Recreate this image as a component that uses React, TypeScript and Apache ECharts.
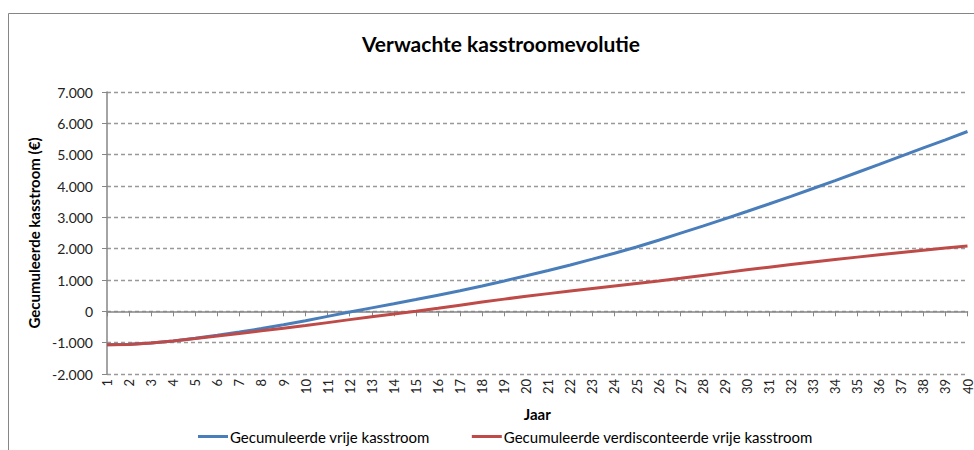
import React, { useEffect, useRef } from "react";
import * as echarts from "echarts";

const years: string[] = Array.from({ length: 40 }, (_, i) => String(i + 1));

const cumulativeFreeCashFlow: number[] = [
  -1070, -1050, -1010, -945, -860, -765, -660, -550, -430, -300,
  -160, -20, 110, 240, 375, 515, 655, 810, 970, 1135,
  1305, 1480, 1665, 1855, 2055, 2270, 2495, 2720, 2950, 3185,
  3425, 3670, 3920, 4170, 4430, 4690, 4955, 5215, 5475, 5740,
];

const cumulativeDiscountedFreeCashFlow: number[] = [
  -1070, -1055, -1010, -945, -870, -790, -705, -620, -540, -455,
  -360, -265, -175, -88, 0, 95, 195, 295, 390, 480,
  565, 648, 730, 810, 890, 970, 1055, 1145, 1235, 1325,
  1410, 1495, 1575, 1655, 1730, 1805, 1880, 1950, 2020, 2085,
];

const seriesNames: string[] = [
  "Gecumuleerde vrije kasstroom",
  "Gecumuleerde verdisconteerde vrije kasstroom",
];

const titleText = "Verwachte kasstroomevolutie";
const yAxisTitle = "Gecumuleerde kasstroom (€)";
const xAxisTitle = "Jaar";

const FONT = "Lato, 'Open Sans', sans-serif";

function fmt(v: number): string {
  const s = Math.abs(v)
    .toString()
    .replace(/\B(?=(\d{3})+(?!\d))/g, ".");
  return (v < 0 ? "-" : "") + s;
}

export default function App() {
  const ref = useRef<HTMLDivElement>(null);

  useEffect(() => {
    if (!ref.current) return;
    const chart = echarts.init(ref.current, null, { renderer: "svg" });
    const axisGrey = "#868686";
    chart.setOption({
      animation: false,
      backgroundColor: "#ffffff",
      textStyle: { fontFamily: FONT },
      title: {
        text: titleText,
        left: 496,
        top: 28,
        textAlign: "center",
        textStyle: {
          fontFamily: FONT,
          fontSize: 21,
          fontWeight: "bold",
          color: "#000",
        },
      },
      graphic: [
        {
          type: "rect",
          shape: { x: 8.5, y: 13.5, width: 1100, height: 600 },
          style: { fill: "none", stroke: axisGrey, lineWidth: 1 },
          silent: true,
          z: -1,
        },
      ],
      grid: { left: 107, right: 4, top: 92, bottom: 76, containLabel: false },
      legend: {
        data: seriesNames,
        left: 193,
        top: 424,
        icon: "rect",
        itemWidth: 30,
        itemHeight: 3,
        itemGap: 42,
        textStyle: { fontFamily: FONT, fontSize: 15, color: "#000", padding: [0, 0, 0, -3] },
      },
      xAxis: [
        {
          type: "category",
          data: years,
          boundaryGap: false,
          axisLine: { show: true, onZero: true, lineStyle: { color: axisGrey, width: 1.5 } },
          axisTick: { show: true, length: 5, interval: 0, lineStyle: { color: axisGrey } },
          axisLabel: { show: false },
          splitLine: { show: false },
        },
        {
          type: "category",
          data: years,
          boundaryGap: false,
          position: "bottom",
          axisLine: { show: false, onZero: false },
          axisTick: { show: false },
          axisLabel: {
            show: true,
            interval: 0,
            rotate: 90,
            margin: 5,
            fontFamily: FONT,
            fontSize: 13,
            color: "#222",
          },
          splitLine: { show: false },
          name: xAxisTitle,
          nameLocation: "middle",
          nameGap: 32,
          nameTextStyle: { fontFamily: FONT, fontSize: 15, fontWeight: "bold", color: "#000" },
        },
      ],
      yAxis: {
        type: "value",
        min: -2000,
        max: 7000,
        interval: 1000,
        axisLine: { show: true, lineStyle: { color: axisGrey, width: 1.5 } },
        axisTick: { show: true, length: 5, lineStyle: { color: axisGrey } },
        axisLabel: {
          formatter: (v: number) => fmt(v),
          fontFamily: FONT,
          fontSize: 14,
          color: "#222",
          margin: 14,
        },
        splitLine: {
          show: true,
          lineStyle: { color: "#999", type: [4, 3], width: 1.3 },
        },
        name: yAxisTitle,
        nameLocation: "middle",
        nameRotate: 90,
        nameGap: 60,
        nameTextStyle: { fontFamily: FONT, fontSize: 15, fontWeight: "bold", color: "#000" },
      },
      series: [
        {
          name: seriesNames[0],
          type: "line",
          xAxisIndex: 0,
          data: cumulativeFreeCashFlow,
          showSymbol: false,
          symbol: "none",
          lineStyle: { color: "#4A7EBB", width: 3 },
          itemStyle: { color: "#4A7EBB" },
        },
        {
          name: seriesNames[1],
          type: "line",
          xAxisIndex: 0,
          data: cumulativeDiscountedFreeCashFlow,
          showSymbol: false,
          symbol: "none",
          lineStyle: { color: "#BE4B48", width: 3 },
          itemStyle: { color: "#BE4B48" },
        },
      ],
    });
    return () => chart.dispose();
  }, []);

  return (
    <div
      ref={ref}
      style={{ position: "fixed", left: 0, top: 0, width: 974, height: 450 }}
    />
  );
}
